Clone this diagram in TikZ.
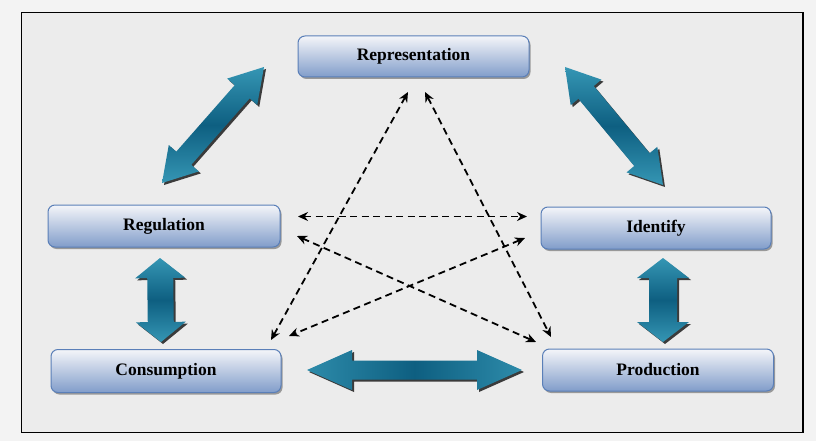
\documentclass[tikz,border=0pt]{standalone}
\usepackage{fontspec}
\setmainfont{Liberation Serif}
\usetikzlibrary{calc,arrows.meta,shadows}
\definecolor{bgout}{HTML}{F3F3F3}
\definecolor{bgin}{HTML}{ECECEC}
\definecolor{boxtop}{HTML}{F4F5F9}
\definecolor{boxbot}{HTML}{819DCA}
\definecolor{boxborder}{HTML}{5A7FB8}
\definecolor{arrlight}{HTML}{3596B4}
\definecolor{arrdark}{HTML}{0E5F81}
\newcommand\fatarr[6]{%
  \path[#6] (#1) -- ($(#1)!#3!(#2)!#4!90:(#2)$) -- ($(#1)!#3!(#2)!#5!90:(#2)$)
   -- ($(#2)!#3!(#1)!#5!-90:(#1)$) -- ($(#2)!#3!(#1)!#4!-90:(#1)$) -- (#2)
   -- ($(#2)!#3!(#1)!#4!90:(#1)$) -- ($(#2)!#3!(#1)!#5!90:(#1)$)
   -- ($(#1)!#3!(#2)!#5!-90:(#2)$) -- ($(#1)!#3!(#2)!#4!-90:(#2)$) -- cycle;}
\begin{document}
\begin{tikzpicture}[x=1pt,y=-1pt,
  box/.style={rounded corners=7pt, draw=boxborder, line width=1pt,
    top color=boxtop, bottom color=boxbot,
    minimum width=231pt, minimum height=41pt, inner sep=0pt,
    font=\bfseries\fontsize{17.5}{20}\selectfont,
    drop shadow={shadow xshift=1.5pt, shadow yshift=-2pt, fill=black, opacity=0.35}},
  fatv/.style={top color=arrlight, bottom color=arrlight, middle color=arrdark,
    drop shadow={shadow xshift=2pt, shadow yshift=-2pt, fill=black, opacity=0.75}},
  fath/.style={left color=arrlight!80!arrdark, right color=arrlight!80!arrdark, middle color=arrdark,
    drop shadow={shadow xshift=2pt, shadow yshift=-2pt, fill=black, opacity=0.75}},
  dasharr/.style={line width=1.8pt, dash pattern=on 7pt off 4.5pt,
    {Stealth[length=10pt,width=9pt]}-{Stealth[length=10pt,width=9pt]}}]
\fill[bgout] (0,0) rectangle (816,441);
\useasboundingbox (0,0) rectangle (816,441);
\draw[line width=1.5pt, fill=bgin] (21.5,12.5) rectangle (803,432.5);

\node[box] (rep) at (413.5,56.5) {Representation};
\node[box, minimum width=232pt, minimum height=42pt] (reg) at (164,226) {Regulation};
\node[box, minimum width=230pt, minimum height=42pt] (ide) at (656,228) {Identify};
\node[box, minimum width=230pt, minimum height=43pt] (con) at (166,371) {Consumption};
\node[box, minimum width=231pt, minimum height=42pt] (pro) at (658,370) {Production};

% fat arrow ends
\coordinate (a1) at (162,183); \coordinate (a2) at (264,67);
\coordinate (b1) at (565,67);  \coordinate (b2) at (663,185);
\coordinate (c1) at (160,258); \coordinate (c2) at (161,342);
\coordinate (e1) at (663,258); \coordinate (e2) at (663,342);
\coordinate (h1) at (307,370); \coordinate (h2) at (522,370);

\fatarr{a1}{a2}{33pt}{20pt}{10pt}{fatv}
\fatarr{b1}{b2}{33pt}{20pt}{10pt}{fatv}
\fatarr{c1}{c2}{20pt}{25pt}{13pt}{fatv}
\fatarr{e1}{e2}{20pt}{26pt}{14pt}{fatv}
\fatarr{h1}{h2}{45pt}{20pt}{9.5pt}{fath}

% dashed arrow ends
\coordinate (d1a) at (271,340); \coordinate (d1b) at (408,92);
\coordinate (d2a) at (425,92);  \coordinate (d2b) at (551,337);
\coordinate (d3a) at (298,216.5); \coordinate (d3b) at (527,216.5);
\coordinate (d4a) at (297,236); \coordinate (d4b) at (536,342);
\coordinate (d5a) at (525,238); \coordinate (d5b) at (289,336);

\draw[dasharr] (d1a) -- (d1b);
\draw[dasharr] (d2a) -- (d2b);
\draw[dasharr] (d3a) -- (d3b);
\draw[dasharr] (d4a) -- (d4b);
\draw[dasharr] (d5a) -- (d5b);
\end{tikzpicture}
\end{document}
